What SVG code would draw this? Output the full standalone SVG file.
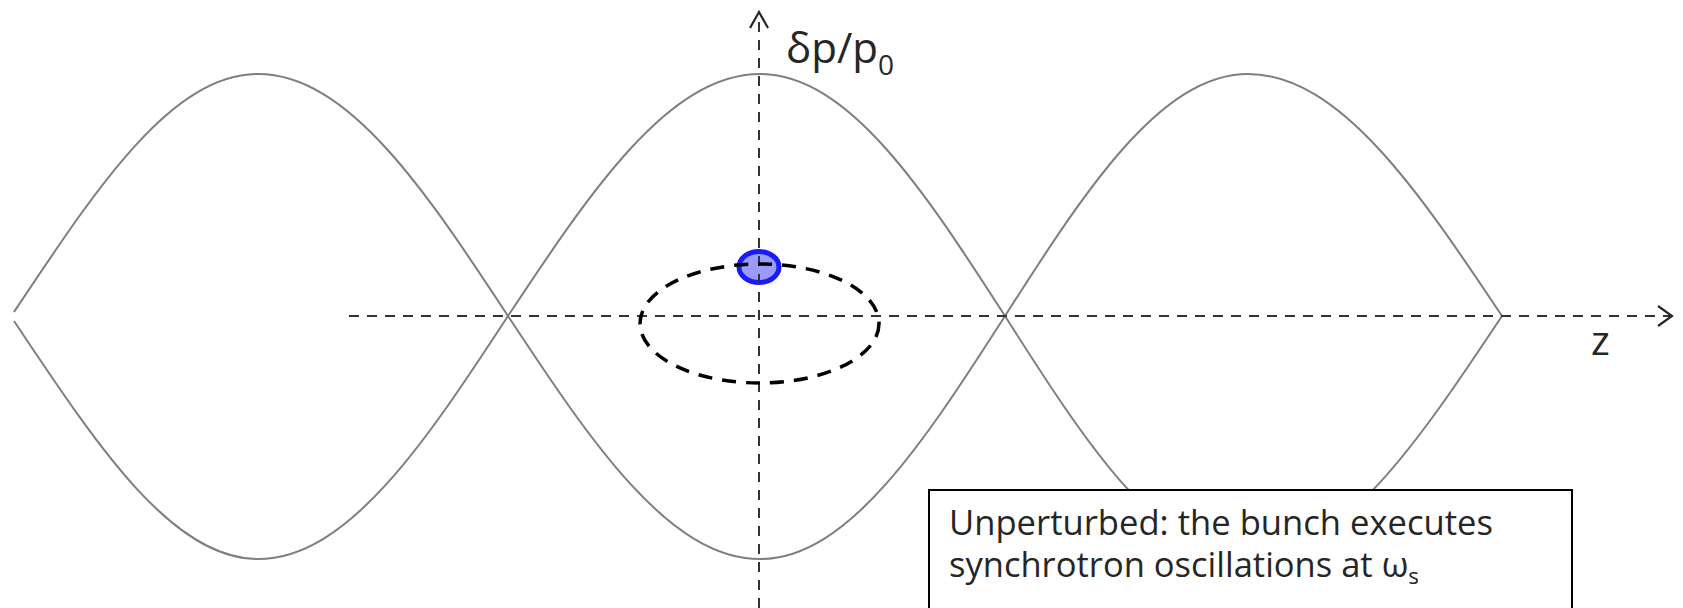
<svg xmlns="http://www.w3.org/2000/svg" width="1683" height="608" viewBox="0 0 1683 608">
  <style>
    .sep { fill: none; stroke: #7f7f7f; stroke-width: 2; }
    .axis { fill: none; stroke: #333333; stroke-width: 2; stroke-dasharray: 10 8; }
    .head { fill: none; stroke: #262626; stroke-width: 2.2; }
    .lbl { font-family: "Open Sans", "Noto Sans", sans-serif; fill: #262626; }
  </style>
  <rect width="1683" height="608" fill="#ffffff"/>
  <g id="separatrix">
    <path class="sep" d="M14,312 C94.2,192 170.1,74 258,74 C348.5,74 426.5,192 508,316 C590.2,192 668.8,74 760,74 C848.7,74 925.1,192 1005,316 C1084.2,192 1160.1,74 1248,74 C1339.9,74 1419.2,192 1502,316"/>
    <path class="sep" d="M14,321 C94.2,440.5 170.1,559 258,559 C348.5,559 426.5,440.5 508,316 C590.2,440.5 668.8,559 760,559 C848.7,559 925.1,440.5 1005,316 C1084.2,440.5 1160.1,559 1248,559 C1339.9,559 1419.2,440.5 1502,316"/>
  </g>
  <g id="bunch">
    <ellipse cx="759" cy="267" rx="20" ry="15.5" fill="#9a9aff" stroke="#1a1aff" stroke-width="5"/>
  </g>
  <g id="connectors">
    <line class="axis" x1="349" y1="316" x2="1670" y2="316"/>
    <polyline class="head" points="1658,306 1672,316 1658,326"/>
    <line class="axis" x1="759" y1="608" x2="759" y2="14"/>
    <polyline class="head" points="750,28 759,12 768,28"/>
  </g>
  <g id="orbit">
    <ellipse cx="759.5" cy="323.5" rx="119.5" ry="59.5" fill="none" stroke="#000000" stroke-width="3.5" stroke-dasharray="14 10"/>
  </g>
  <g id="label-dp">
    <text class="lbl" x="786" y="63" font-size="42">δp/p<tspan font-size="28" dy="12">0</tspan></text>
  </g>
  <g id="label-z">
    <text class="lbl" x="1591" y="355" font-size="40">z</text>
  </g>
  <g id="textbox">
    <rect x="929" y="490" width="643" height="130" fill="#ffffff" stroke="#000000" stroke-width="2"/>
    <text class="lbl" x="949" y="535" font-size="34" textLength="544" lengthAdjust="spacingAndGlyphs">Unperturbed: the bunch executes</text>
    <text class="lbl" x="949" y="577" font-size="34" textLength="470" lengthAdjust="spacingAndGlyphs">synchrotron oscillations at ω<tspan font-size="22" dy="7">s</tspan></text>
  </g>
</svg>
